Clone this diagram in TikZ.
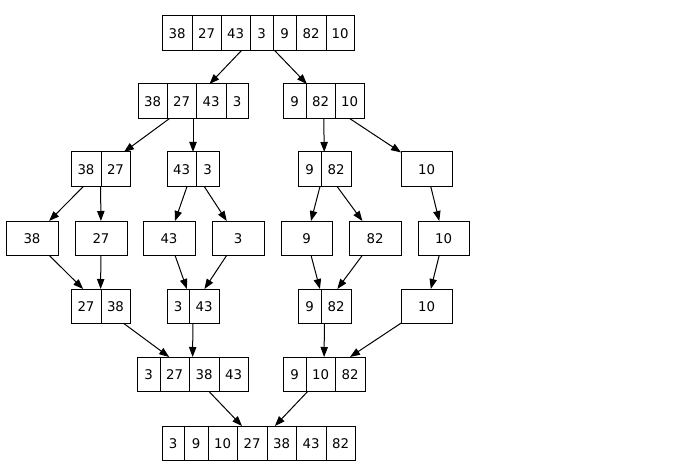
\documentclass[tikz,border=0pt]{standalone}
\usepackage{fontspec}
\setmainfont{DejaVu Sans}
\usetikzlibrary{arrows.meta}
\tikzset{
  recbox/.style={draw=black, line width=0.75pt, rectangle, inner sep=0pt, outer sep=0pt, minimum height=25.875pt},
  cellline/.style={draw=black, line width=0.75pt},
  celltext/.style={inner sep=0pt, font=\fontsize{10}{12}\selectfont},
  edge/.style={draw=black, line width=0.75pt, -{Triangle[length=7.5pt,width=5.5pt]}}
}
\newcommand{\rec}[5]{%
  \pgfmathsetmacro\recw{(#4-#3)*0.75}%
  \node[recbox, minimum width=\recw pt] (#1) at ({(#3+#4)/2},{#2+17.25}) {};
  \foreach \ca/\cb/\ct in {#5}{%
    \draw[cellline] (\cb,#2) -- (\cb,#2+34.5);
    \node[celltext] at ({(\ca+\cb)/2},{#2+17.25}) {\ct};
  }%
}
\begin{document}
\begin{tikzpicture}[x=0.75pt,y=-0.75pt]
\useasboundingbox[fill=white] (0,0) rectangle (680,470);
% row 1
\rec{a}{16}{162}{354}{162/192/38,192/221/27,221/250/43,250/273/3,273/296/9,296/326/82,326/354/10}
% row 2
\rec{bl}{84}{138}{248}{138/167/38,167/196/27,196/226/43,226/248/3}
\rec{br}{84}{283}{364}{283/306/9,306/335/82,335/364/10}
% row 3
\rec{c1}{152}{71}{130}{71/101/38,101/130/27}
\rec{c2}{152}{167}{219}{167/196/43,196/219/3}
\rec{c3}{152}{298}{351}{298/321/9,321/351/82}
\rec{c4}{152}{401}{452}{401/452/10}
% row 4
\rec{d1}{221}{6}{58}{6/58/38}
\rec{d2}{221}{75}{127}{75/127/27}
\rec{d3}{221}{143}{195}{143/195/43}
\rec{d4}{221}{212}{264}{212/264/3}
\rec{d5}{221}{281}{332}{281/332/9}
\rec{d6}{221}{349}{401}{349/401/82}
\rec{d7}{221}{418}{469}{418/469/10}
% row 5
\rec{e1}{289}{71}{130}{71/101/27,101/130/38}
\rec{e2}{289}{167}{219}{167/189/3,189/219/43}
\rec{e3}{289}{298}{351}{298/321/9,321/351/82}
\rec{e4}{289}{401}{452}{401/452/10}
% row 6
\rec{fl}{357}{137}{248}{137/160/3,160/189/27,189/219/38,219/248/43}
\rec{fr}{357}{283}{365}{283/306/9,306/335/10,335/365/82}
% row 7
\rec{g}{426}{162}{355}{162/184/3,184/208/9,208/237/10,237/267/27,267/296/38,296/326/43,326/355/82}
% edges
\draw[edge] (a) -- (bl);
\draw[edge] (a) -- (br);
\draw[edge] (bl) -- (c1);
\draw[edge] (bl) -- (c2);
\draw[edge] (br) -- (c3);
\draw[edge] (br) -- (c4);
\draw[edge] (c1) -- (d1);
\draw[edge] (c1) -- (d2);
\draw[edge] (c2) -- (d3);
\draw[edge] (c2) -- (d4);
\draw[edge] (c3) -- (d5);
\draw[edge] (c3) -- (d6);
\draw[edge] (c4) -- (d7);
\draw[edge] (d1) -- (e1);
\draw[edge] (d2) -- (e1);
\draw[edge] (d3) -- (e2);
\draw[edge] (d4) -- (e2);
\draw[edge] (d5) -- (e3);
\draw[edge] (d6) -- (e3);
\draw[edge] (d7) -- (e4);
\draw[edge] (e1) -- (fl);
\draw[edge] (e2) -- (fl);
\draw[edge] (e3) -- (fr);
\draw[edge] (e4) -- (fr);
\draw[edge] (fl) -- (g);
\draw[edge] (fr) -- (g);
\end{tikzpicture}
\end{document}
